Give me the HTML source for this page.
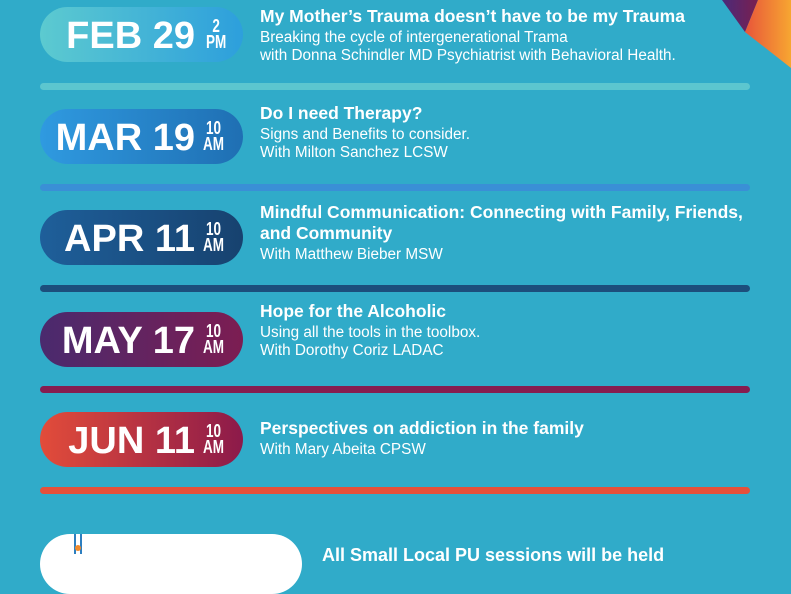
<!DOCTYPE html>
<html><head><style>
body{margin:0;width:791px;height:553px;overflow:hidden;background:#30abc9;font-family:"Liberation Sans",Arial,sans-serif;position:relative}
.pill{position:absolute;left:40px;width:203px;height:55px;border-radius:28px;color:#fff;font-weight:bold}
.pill .d{position:absolute;left:0;width:155px;text-align:right;top:8px;font-size:38px}
.pill .t{position:absolute;left:163px;top:11px;font-size:18px;line-height:16px;text-align:center;transform:scaleX(.75);transform-origin:left}
.line{position:absolute;left:40px;width:710px;height:7px;border-radius:4px}
.txt{position:absolute;left:260px;color:#fff;font-size:15.3px;line-height:18px;white-space:nowrap}
.txt b{font-size:17.5px;display:block;line-height:21px;margin-bottom:2px}
</style></head><body>
<svg style="position:absolute;left:0;top:0" width="791" height="553">
<defs><linearGradient id="o" x1="0" x2="1"><stop offset="0" stop-color="#e8553a"/><stop offset="1" stop-color="#f7a631"/></linearGradient>
<linearGradient id="p" x1="0" x2="1"><stop offset="0" stop-color="#4a2a7a"/><stop offset="1" stop-color="#7a1f4f"/></linearGradient></defs>
<polygon points="722,0 758,0 745,32" fill="url(#p)"/>
<polygon points="758,0 791,0 791,68 745,32" fill="url(#o)"/>
</svg>
<div class="pill" style="top:7px;background:linear-gradient(90deg,#5ccad0,#2d9fdc)"><div class="d">FEB 29</div><div class="t" style="left:166px">2<br>PM</div></div>
<div class="line" style="top:83px;background:#5cc6cf"></div>
<div class="txt" style="top:6px"><b>My Mother’s Trauma doesn’t have to be my Trauma</b>Breaking the cycle of intergenerational Trama<br>with Donna Schindler MD Psychiatrist with Behavioral Health.</div>

<div class="pill" style="top:109px;background:linear-gradient(90deg,#2f9ae0,#1f6fb3)"><div class="d">MAR 19</div><div class="t">10<br>AM</div></div>
<div class="line" style="top:184px;background:#3a8fd6"></div>
<div class="txt" style="top:103px"><b>Do I need Therapy?</b>Signs and Benefits to consider.<br>With Milton Sanchez LCSW</div>

<div class="pill" style="top:210px;background:linear-gradient(90deg,#1e5f9a,#17426f)"><div class="d">APR 11</div><div class="t">10<br>AM</div></div>
<div class="line" style="top:285px;background:#1c4e7c"></div>
<div class="txt" style="top:202px"><b>Mindful Communication: Connecting with Family, Friends,<br>and Community</b>With Matthew Bieber MSW</div>

<div class="pill" style="top:312px;background:linear-gradient(90deg,#4a2a6e,#7c1d52)"><div class="d">MAY 17</div><div class="t">10<br>AM</div></div>
<div class="line" style="top:386px;background:#861d50"></div>
<div class="txt" style="top:301px"><b>Hope for the Alcoholic</b>Using all the tools in the toolbox.<br>With Dorothy Coriz LADAC</div>

<div class="pill" style="top:412px;background:linear-gradient(90deg,#e24c3a,#8c1a4a)"><div class="d">JUN 11</div><div class="t">10<br>AM</div></div>
<div class="line" style="top:487px;background:#e5503a"></div>
<div class="txt" style="top:418px"><b>Perspectives on addiction in the family</b>With Mary Abeita CPSW</div>

<div style="position:absolute;left:40px;top:534px;width:262px;height:60px;border-radius:30px;background:#fff"></div>
<div style="position:absolute;left:74px;top:534px;width:2px;height:20px;background:#2d7fc0"></div>
<div style="position:absolute;left:80px;top:534px;width:2px;height:20px;background:#2d7fc0"></div>
<div style="position:absolute;left:75px;top:545px;width:6px;height:6px;border-radius:3px;background:#f08a2c"></div>
<div style="position:absolute;left:322px;top:545px;color:#fff;font-weight:bold;font-size:18px">All Small Local PU sessions will be held</div>
</body></html>
